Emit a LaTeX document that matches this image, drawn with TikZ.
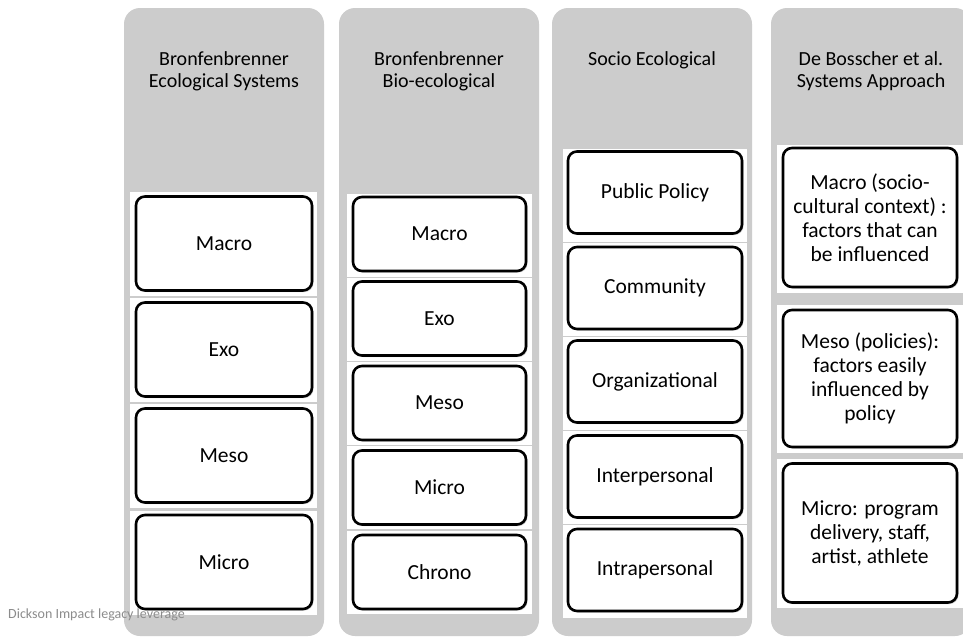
\documentclass[tikz,border=0pt]{standalone}
\usepackage{fontspec}
\setmainfont{Carlito}
\usepackage{tikz}
\usetikzlibrary{shadows}

\definecolor{colgray}{HTML}{CCCCCC}
\definecolor{notegray}{HTML}{8C8C8C}

\begin{document}
\begin{tikzpicture}[x=1pt, y=-1pt,
  column/.style={fill=colgray, rounded corners=16pt},
  heading/.style={anchor=north, align=center, inner sep=0pt,
                  font=\fontsize{20}{22}\selectfont},
  band/.style={rectangle, fill=white, inner sep=0pt},
  layer/.style={rectangle, draw=black, line width=2.6pt, fill=white,
                rounded corners=9pt, align=center, inner sep=0pt,
                font=\fontsize{21.5}{24}\selectfont,
                drop shadow={shadow xshift=1.5pt, shadow yshift=-1.5pt,
                             opacity=0.35}}]
  \useasboundingbox (0,0) rectangle (963,637);
  \clip (0,0) rectangle (963,637);
  \fill[white] (0,0) rectangle (963,637);

  % Bronfenbrenner ecological systems
  \fill[column] (124,8) rectangle (324,636);
  \node[heading] (T1) at (224,51) {Bronfenbrenner\\Ecological Systems};
  \node[band, minimum width=187pt, minimum height=104pt] (B1a) at (223.5,244) {};
  \node[band, minimum width=187pt, minimum height=104pt] (B1b) at (223.5,350) {};
  \node[band, minimum width=187pt, minimum height=104pt] (B1c) at (223.5,456) {};
  \node[band, minimum width=187pt, minimum height=104pt] (B1d) at (223.5,563) {};
  \node[layer, minimum width=176pt, minimum height=94pt] (macroA) at (224,243.5) {Macro};
  \node[layer, minimum width=176pt, minimum height=94pt] (exoA) at (224,349.5) {Exo};
  \node[layer, minimum width=176pt, minimum height=94pt] (mesoA) at (224,455.5) {Meso};
  \node[layer, minimum width=176pt, minimum height=94pt] (microA) at (224,562) {Micro};

  % Bronfenbrenner bio-ecological
  \fill[column] (339,8) rectangle (539,636);
  \node[heading] (T2) at (439,51) {Bronfenbrenner\\Bio-ecological};
  \node[band, minimum width=185pt, minimum height=83pt] (B2a) at (439.5,235.5) {};
  \node[band, minimum width=185pt, minimum height=83pt] (B2b) at (439.5,319.5) {};
  \node[band, minimum width=185pt, minimum height=83pt] (B2c) at (439.5,403.5) {};
  \node[band, minimum width=185pt, minimum height=83pt] (B2d) at (439.5,487.5) {};
  \node[band, minimum width=185pt, minimum height=83pt] (B2e) at (439.5,572) {};
  \node[layer, minimum width=173pt, minimum height=74pt] (macroB) at (439.5,234) {Macro};
  \node[layer, minimum width=173pt, minimum height=74pt] (exoB) at (439.5,318.5) {Exo};
  \node[layer, minimum width=173pt, minimum height=74pt] (mesoB) at (439.5,403) {Meso};
  \node[layer, minimum width=173pt, minimum height=74pt] (microB) at (439.5,487.5) {Micro};
  \node[layer, minimum width=173pt, minimum height=74pt] (chronoB) at (439.5,572) {Chrono};

  % Socio ecological model
  \fill[column] (552,8) rectangle (752,636);
  \node[heading] (T3) at (652,51) {Socio Ecological};
  \node[band, minimum width=184pt, minimum height=93pt] (B3a) at (655,195) {};
  \node[band, minimum width=184pt, minimum height=93pt] (B3b) at (655,289) {};
  \node[band, minimum width=184pt, minimum height=93pt] (B3c) at (655,383) {};
  \node[band, minimum width=184pt, minimum height=93pt] (B3d) at (655,477) {};
  \node[band, minimum width=184pt, minimum height=93pt] (B3e) at (655,571) {};
  \node[layer, minimum width=174pt, minimum height=82pt] (policy) at (655,192.5) {Public Policy};
  \node[layer, minimum width=174pt, minimum height=82pt] (community) at (655,288) {Community};
  \node[layer, minimum width=174pt, minimum height=82pt] (organ) at (655,381.5) {Organizational};
  \node[layer, minimum width=174pt, minimum height=82pt] (inter) at (655,476.5) {Interpersonal};
  \node[layer, minimum width=174pt, minimum height=82pt] (intra) at (655,570) {Intrapersonal};

  % De Bosscher et al. systems approach
  \fill[column] (771,8) rectangle (971,636);
  \node[heading] (T4) at (871,51) {De Bosscher et al.\\Systems Approach};
  \node[band, minimum width=186pt, minimum height=148pt] (B4a) at (870,219) {};
  \node[band, minimum width=186pt, minimum height=148pt] (B4b) at (870,379) {};
  \node[band, minimum width=186pt, minimum height=149pt] (B4c) at (870,533.5) {};
  \node[layer, minimum width=174pt, minimum height=139pt] (macroD) at (870,217.5)
    {Macro (socio-\\cultural context) :\\factors that can\\be influenced};
  \node[layer, minimum width=174pt, minimum height=137pt] (mesoD) at (870,378.5)
    {Meso (policies):\\factors easily\\influenced by\\policy};
  \node[layer, minimum width=174pt, minimum height=139pt] (microD) at (870,533)
    {Micro: program\\delivery, staff,\\artist, athlete};

  % Footnote
  \node[anchor=west, inner sep=0pt, text=notegray, font=\fontsize{14}{16}\selectfont]
    (note) at (8,615) {Dickson Impact legacy leverage};
\end{tikzpicture}
\end{document}
